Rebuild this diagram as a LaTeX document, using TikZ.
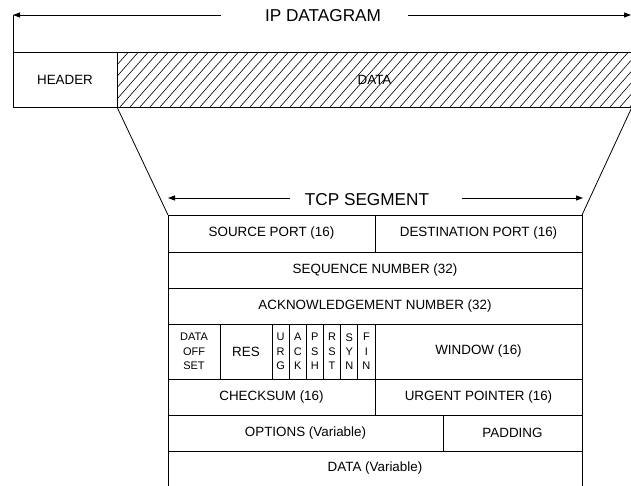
\documentclass[tikz,border=0pt]{standalone}
\usepackage{fontspec}
\setmainfont{Liberation Sans}
\usetikzlibrary{arrows.meta}

% \tcpcell[style]{name}{x1}{y1}{x2}{y2}{text}: a field box given by its corners
\newcommand{\tcpcell}[7][]{%
  \node[cellbox,#1,minimum width={#5pt-#3pt},minimum height={#6pt-#4pt}]
    (#2) at ({(#3+#5)/2},{(#4+#6)/2}) {#7};}

\begin{document}
\begin{tikzpicture}[x=1pt,y=-1pt,line width=0.8pt,
  cellbox/.style={draw,inner sep=0pt,outer sep=0pt,align=center,
    font=\fontsize{13.4}{16}\selectfont},
  smallcell/.style={font=\fontsize{11}{14.3}\selectfont},
  plaincell/.style={draw=none},
  title/.style={inner sep=0pt,font=\fontsize{17.2}{20}\selectfont},
  span/.style={-{Triangle[length=7pt,width=5pt]}},
  hatch/.style={line width=0.6pt}]
\useasboundingbox (0,0) rectangle (631,485);
\clip (0,0) rectangle (631,485);

% ---- IP datagram ----
\node[title] (iptitle) at (323,16) {IP DATAGRAM};
\coordinate (ipL) at (13,15);
\coordinate (ipR) at (631,15);
\coordinate (ipLend) at (221,15);
\coordinate (ipRstart) at (408,15);
\draw[span] (ipLend) -- (ipL);
\draw[span] (ipRstart) -- (ipR);

\tcpcell{header}{13}{52.5}{117}{107}{HEADER}
\begin{scope}
  \clip (117,52.5) rectangle (632,107);
  \foreach \x in {60,70,...,640}
    \draw[hatch] (\x,107) -- ++(48,-54.5);
\end{scope}
\tcpcell{ipdata}{117}{52.5}{632}{107}{DATA}
\draw (ipL) -- (header.north west);

% ---- TCP segment ----
\node[title] (tcptitle) at (367,199.5) {TCP SEGMENT};
\coordinate (tcpL) at (168,198);
\coordinate (tcpR) at (583,198);
\coordinate (tcpLend) at (290,198);
\coordinate (tcpRstart) at (462,198);
\draw[span] (tcpLend) -- (tcpL);
\draw[span] (tcpRstart) -- (tcpR);

\tcpcell{src}{168}{215}{375}{252}{SOURCE PORT (16)}
\tcpcell{dst}{375}{215}{582}{252}{DESTINATION PORT (16)}
\tcpcell{seq}{168}{252}{582}{288}{SEQUENCE NUMBER (32)}
\tcpcell{ack}{168}{288}{582}{324}{ACKNOWLEDGEMENT NUMBER (32)}
\tcpcell[smallcell]{off}{168}{324}{220}{379}{DATA\\OFF\\SET}
\tcpcell{res}{220}{324}{272}{379}{RES}
\tcpcell[smallcell]{furg}{272}{324}{289.2}{379}{U\\R\\G}
\tcpcell[smallcell]{fack}{289.2}{324}{306.3}{379}{A\\C\\K}
\tcpcell[smallcell]{fpsh}{306.3}{324}{323.5}{379}{P\\S\\H}
\tcpcell[smallcell]{frst}{323.5}{324}{340.7}{379}{R\\S\\T}
\tcpcell[smallcell]{fsyn}{340.7}{324}{357.8}{379}{S\\Y\\N}
\tcpcell[smallcell]{ffin}{357.8}{324}{375}{379}{F\\I\\N}
\tcpcell{win}{375}{324}{582}{379}{WINDOW (16)}
\tcpcell{chk}{168}{379}{375}{415}{CHECKSUM (16)}
\tcpcell{urg}{375}{379}{582}{415}{URGENT POINTER (16)}
\tcpcell{opt}{168}{415}{443}{451}{OPTIONS (Variable)}
\tcpcell{pad}{443}{415}{582}{451}{PADDING}
\tcpcell[plaincell]{tdata}{168}{451}{582}{486}{DATA (Variable)}
\draw (tdata.north west) -- (tdata.south west);
\draw (tdata.north east) -- (tdata.south east);

% ---- expansion of the IP data into the TCP segment ----
\draw (header.south east) -- (src.north west);
\draw (ipdata.south east) -- (dst.north east);
\end{tikzpicture}
\end{document}
